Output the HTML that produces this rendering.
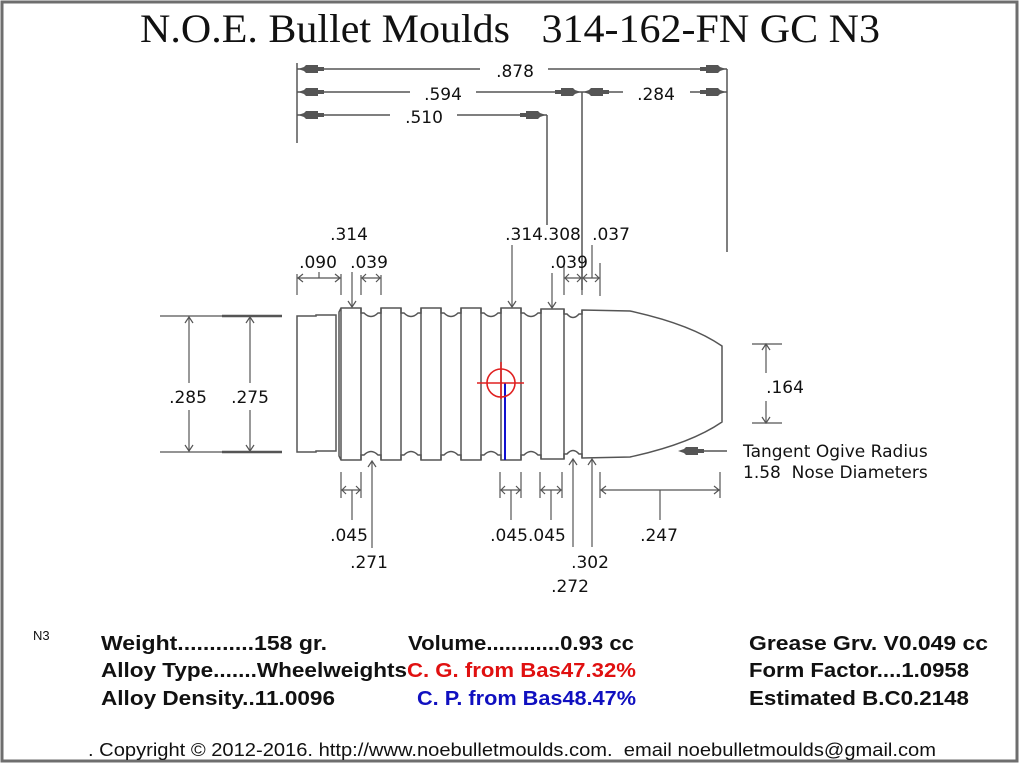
<!DOCTYPE html>
<html><head><meta charset="utf-8"><style>html,body{margin:0;padding:0;background:#fff}svg{display:block}text{white-space:pre}</style></head>
<body>
<svg width="1023" height="767" viewBox="0 0 1023 767" xmlns="http://www.w3.org/2000/svg">
<defs>
<g id="ah"><polygon points="0,0 6,-2 8,-4 20,-4 20,4 8,4 6,2" fill="#555"/><rect x="18" y="-2" width="8" height="4" fill="#555"/></g>
</defs>
<rect x="0" y="0" width="1023" height="767" fill="#fff"/>
<rect x="2" y="2" width="1015" height="759" fill="none" stroke="#6e6e6e" stroke-width="3"/>
<text x="140" y="42" font-family="Liberation Serif, serif" font-size="40" textLength="740" lengthAdjust="spacingAndGlyphs" fill="#111">N.O.E. Bullet Moulds   314-162-FN GC N3</text>

<g stroke="#555" stroke-width="1.5" fill="none">
<line x1="297" y1="63" x2="297" y2="143"/>
<line x1="297" y1="69" x2="480" y2="69"/><line x1="548" y1="69" x2="727" y2="69"/>
<line x1="727" y1="69" x2="727" y2="252"/>
<line x1="297" y1="92" x2="410" y2="92"/><line x1="476" y1="92" x2="582" y2="92"/>
<line x1="582" y1="92" x2="623" y2="92"/><line x1="690" y1="92" x2="727" y2="92"/>
<line x1="582" y1="92" x2="582" y2="290"/>
<line x1="297" y1="115" x2="390" y2="115"/><line x1="457" y1="115" x2="547" y2="115"/>
<line x1="547" y1="115" x2="547" y2="225"/>
</g>
<g>
<use href="#ah" transform="translate(298,69)"/><use href="#ah" transform="translate(726,69) scale(-1,1)"/>
<use href="#ah" transform="translate(298,92)"/><use href="#ah" transform="translate(581,92) scale(-1,1)"/>
<use href="#ah" transform="translate(583,92)"/><use href="#ah" transform="translate(726,92) scale(-1,1)"/>
<use href="#ah" transform="translate(298,115)"/><use href="#ah" transform="translate(546,115) scale(-1,1)"/>
<use href="#ah" transform="translate(678,451)"/>
</g>
<line x1="690" y1="451" x2="727" y2="451" stroke="#555" stroke-width="1.5"/>

<g stroke="#555" stroke-width="1.5" fill="none">
<path d="M336,315 L316,315 L316,316 L297,316 L297,452 L316,452 L316,451 L336,451 Z"/>
<path d="M339,452 L339,312 L341,308 L361,308 L361,313 L364,313 Q371,320 378,313 L381,313 L381,308 L401,308 L401,313 L404,313 Q411,320 418,313 L421,313 L421,308 L441,308 L441,313 L444,313 Q451,320 458,313 L461,313 L461,308 L481,308 L481,313 L484,313 Q491,320 498,313 L501,313 L501,308 L521,308 L521,313 L524,313 Q531,320 538,313 L541,313 L541,309 L564,309 L564,314 L567,314 Q573,321 579,314 L582,314 L582,310 L630,311 Q690,324 722,346 L722,422 Q690,444 630,457 L582,458 L582,454 L579,454 Q573,447 567,454 L564,454 L564,459 L541,459 L541,455 L538,455 Q531,448 524,455 L521,455 L521,460 L501,460 L501,455 L498,455 Q491,448 484,455 L481,455 L481,460 L461,460 L461,455 L458,455 Q451,448 444,455 L441,455 L441,460 L421,460 L421,455 L418,455 Q411,448 404,455 L401,455 L401,460 L381,460 L381,455 L378,455 Q371,448 364,455 L361,455 L361,460 L341,460 L339,456 Z"/>
<line x1="341" y1="308" x2="341" y2="460"/><line x1="361" y1="308" x2="361" y2="460"/>
<line x1="381" y1="308" x2="381" y2="460"/><line x1="401" y1="308" x2="401" y2="460"/>
<line x1="421" y1="308" x2="421" y2="460"/><line x1="441" y1="308" x2="441" y2="460"/>
<line x1="461" y1="308" x2="461" y2="460"/><line x1="481" y1="308" x2="481" y2="460"/>
<line x1="501" y1="308" x2="501" y2="460"/><line x1="521" y1="308" x2="521" y2="460"/>
<line x1="541" y1="309" x2="541" y2="459"/><line x1="564" y1="309" x2="564" y2="459"/>
<line x1="582" y1="310" x2="582" y2="458"/>
</g>
<line x1="505" y1="383" x2="505" y2="460" stroke="#1010d0" stroke-width="2"/>
<g stroke="#e02020" stroke-width="1.6" fill="none">
<circle cx="501" cy="383" r="14"/><line x1="477" y1="383" x2="524" y2="383"/><line x1="501" y1="362" x2="501" y2="399"/>
</g>

<g stroke="#555" stroke-width="1.2" fill="none">
<line x1="160" y1="316" x2="282" y2="316"/><line x1="160" y1="452" x2="282" y2="452"/>
<line x1="222" y1="316" x2="282" y2="316" stroke-width="2.5"/><line x1="222" y1="452" x2="282" y2="452" stroke-width="2.5"/>
<line x1="189" y1="316" x2="189" y2="383"/><line x1="189" y1="410" x2="189" y2="452"/>
<line x1="250" y1="316" x2="250" y2="383"/><line x1="250" y1="410" x2="250" y2="452"/>
<path d="M185,323 L189,317 L193,323 M185,445 L189,451 L193,445 M246,323 L250,317 L254,323 M246,445 L250,451 L254,445"/>
<line x1="297" y1="274" x2="297" y2="295"/><line x1="341" y1="274" x2="341" y2="295"/>
<line x1="297" y1="278" x2="341" y2="278"/><line x1="319" y1="272" x2="319" y2="278"/>
<path d="M303,274 L298,278 L303,282 M335,274 L340,278 L335,282"/>
<line x1="352" y1="272" x2="352" y2="307"/><path d="M348,301 L352,307 L356,301"/>
<line x1="361" y1="275" x2="361" y2="295"/><line x1="381" y1="275" x2="381" y2="295"/>
<line x1="361" y1="278" x2="381" y2="278"/><path d="M366,274 L362,278 L366,282 M376,274 L380,278 L376,282"/>
<line x1="512" y1="245" x2="512" y2="307"/><path d="M508,301 L512,307 L516,301"/>
<line x1="552" y1="273" x2="552" y2="308"/><path d="M548,302 L552,308 L556,302"/>
<line x1="564" y1="263" x2="564" y2="295"/><line x1="582" y1="263" x2="582" y2="295"/>
<line x1="564" y1="278" x2="582" y2="278"/><path d="M569,274 L565,278 L569,282 M577,274 L581,278 L577,282"/>
<line x1="600" y1="263" x2="600" y2="296"/><line x1="582" y1="278" x2="600" y2="278"/>
<line x1="592" y1="245" x2="592" y2="278"/><path d="M587,274 L583,278 L587,282 M595,274 L599,278 L595,282"/>
<line x1="341" y1="472" x2="341" y2="498"/><line x1="361" y1="472" x2="361" y2="498"/>
<line x1="341" y1="490" x2="361" y2="490"/><line x1="352" y1="490" x2="352" y2="520"/>
<path d="M346,486 L342,490 L346,494 M356,486 L360,490 L356,494"/>
<line x1="372" y1="461" x2="372" y2="548"/><path d="M368,467 L372,461 L376,467"/>
<line x1="500" y1="472" x2="500" y2="498"/><line x1="521" y1="472" x2="521" y2="498"/>
<line x1="500" y1="490" x2="521" y2="490"/><line x1="511" y1="490" x2="511" y2="520"/>
<path d="M505,486 L501,490 L505,494 M516,486 L520,490 L516,494"/>
<line x1="540" y1="472" x2="540" y2="498"/><line x1="562" y1="472" x2="562" y2="498"/>
<line x1="540" y1="490" x2="562" y2="490"/><line x1="551" y1="490" x2="551" y2="520"/>
<path d="M545,486 L541,490 L545,494 M557,486 L561,490 L557,494"/>
<line x1="573" y1="459" x2="573" y2="547"/><path d="M569,465 L573,459 L577,465"/>
<line x1="592" y1="459" x2="592" y2="547"/><path d="M588,465 L592,459 L596,465"/>
<line x1="600" y1="472" x2="600" y2="498"/><line x1="720" y1="472" x2="720" y2="498"/>
<line x1="600" y1="490" x2="720" y2="490"/><line x1="660" y1="490" x2="660" y2="520"/>
<path d="M606,486 L601,490 L606,494 M714,486 L719,490 L714,494"/>
<line x1="752" y1="344" x2="782" y2="344"/><line x1="752" y1="423" x2="782" y2="423"/>
<line x1="766" y1="344" x2="766" y2="373"/><line x1="766" y1="401" x2="766" y2="423"/>
<path d="M762,350 L766,344 L770,350 M762,417 L766,423 L770,417"/>
</g>

<g font-family="DejaVu Sans, Verdana, sans-serif" font-size="17" fill="#111" text-anchor="middle">
<text x="515" y="77">.878</text>
<text x="443" y="100">.594</text>
<text x="656" y="100">.284</text>
<text x="424" y="123">.510</text>
<text x="349" y="240">.314</text>
<text x="318" y="268">.090</text>
<text x="369" y="268">.039</text>
<text x="543" y="240">.314.308</text>
<text x="569" y="268">.039</text>
<text x="611" y="240">.037</text>
<text x="188" y="403">.285</text>
<text x="250" y="403">.275</text>
<text x="785" y="393">.164</text>
<text x="349" y="541">.045</text>
<text x="369" y="568">.271</text>
<text x="528" y="541">.045.045</text>
<text x="590" y="568">.302</text>
<text x="570" y="592">.272</text>
<text x="659" y="541">.247</text>
<text x="743" y="457" text-anchor="start">Tangent Ogive Radius</text>
<text x="743" y="478" text-anchor="start">1.58  Nose Diameters</text>
</g>

<text x="33" y="640" font-family="Liberation Sans, sans-serif" font-size="13" fill="#111">N3</text>
<g font-family="Liberation Sans Narrow, Liberation Sans, sans-serif" font-size="20" font-weight="bold" fill="#111">
<text x="101" y="650" textLength="226" lengthAdjust="spacingAndGlyphs">Weight............158 gr.</text>
<text x="101" y="677" textLength="306" lengthAdjust="spacingAndGlyphs">Alloy Type.......Wheelweights</text>
<text x="101" y="705" textLength="234" lengthAdjust="spacingAndGlyphs">Alloy Density..11.0096</text>
<text x="408" y="650" textLength="226" lengthAdjust="spacingAndGlyphs">Volume............0.93 cc</text>
<text x="407" y="677" textLength="229" lengthAdjust="spacingAndGlyphs" fill="#e01010">C. G. from Bas47.32%</text>
<text x="417" y="705" textLength="219" lengthAdjust="spacingAndGlyphs" fill="#1010c0">C. P. from Bas48.47%</text>
<text x="749" y="650" textLength="239" lengthAdjust="spacingAndGlyphs">Grease Grv. V0.049 cc</text>
<text x="749" y="677" textLength="220" lengthAdjust="spacingAndGlyphs">Form Factor....1.0958</text>
<text x="749" y="705" textLength="220" lengthAdjust="spacingAndGlyphs">Estimated B.C0.2148</text>
</g>
<text x="88" y="756" font-family="Liberation Sans Narrow, Liberation Sans, sans-serif" font-size="18" fill="#111" textLength="848" lengthAdjust="spacingAndGlyphs">. Copyright © 2012-2016. http://www.noebulletmoulds.com.  email noebulletmoulds@gmail.com</text>
</svg>
</body></html>
